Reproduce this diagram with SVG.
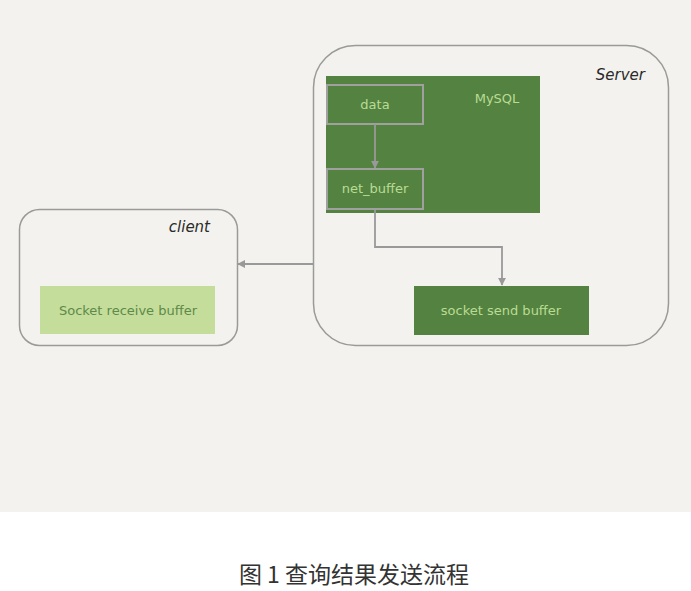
<svg xmlns="http://www.w3.org/2000/svg" width="691" height="591" viewBox="0 0 691 591">
<style>
.bg{fill:#f3f2ee}
.cont{fill:#f3f2ee;stroke:#9a9a98;stroke-width:1.5}
.dark{fill:#548240}
.inner{fill:#548240;stroke:#a0a0a0;stroke-width:2}
.lt{font-family:"DejaVu Sans","Liberation Sans",sans-serif;font-size:13px;fill:#b9dc93;text-anchor:middle}
.hd{font-family:"DejaVu Sans","Liberation Sans",sans-serif;font-size:15px;fill:#2a2a2a;text-anchor:end;font-style:italic}
.conn{fill:none;stroke:#999;stroke-width:1.8}
</style>
<defs>
<marker id="ah" viewBox="0 0 10 10" refX="9" refY="5" markerWidth="8" markerHeight="8" markerUnits="userSpaceOnUse" orient="auto">
<path d="M0,0 L10,5 L0,10 z" fill="#999"/>
</marker>
</defs>
<rect class="bg" x="0" y="0" width="691" height="512"/>
<rect x="0" y="512" width="691" height="79" fill="#ffffff"/>
<g id="server">
<rect class="cont" x="313.5" y="45.5" width="355" height="300" rx="42"/>
<text class="hd" x="645" y="80">Server</text>
</g>
<g id="client">
<rect class="cont" x="19.5" y="209.5" width="218" height="136" rx="20"/>
<text class="hd" x="210" y="232">client</text>
</g>
<g id="mysql">
<rect class="dark" x="326" y="76" width="214" height="137"/>
<text class="lt" x="497" y="103">MySQL</text>
</g>
<g id="data">
<rect class="inner" x="327" y="85" width="96" height="39"/>
<text class="lt" x="375" y="109">data</text>
</g>
<g id="net_buffer">
<rect class="inner" x="327" y="169" width="96" height="40"/>
<text class="lt" x="375" y="193">net_buffer</text>
</g>
<g id="socket_send_buffer">
<rect class="dark" x="414" y="286" width="175" height="49"/>
<text class="lt" x="501" y="315">socket send buffer</text>
</g>
<g id="socket_receive_buffer">
<rect x="40" y="286" width="175" height="48" fill="#c5dd9b"/>
<text class="lt" x="128" y="315" style="fill:#5c8a48">Socket receive buffer</text>
</g>
<g id="connectors">
<path class="conn" d="M375,124 V168" marker-end="url(#ah)"/>
<path class="conn" d="M375,210 V247 H502 V285" marker-end="url(#ah)"/>
<path class="conn" d="M313,264 H238" marker-end="url(#ah)"/>
</g>
<text x="354" y="583" font-family="'Noto Sans CJK SC',sans-serif" font-size="23" fill="#333" text-anchor="middle">图 1 查询结果发送流程</text>
</svg>
